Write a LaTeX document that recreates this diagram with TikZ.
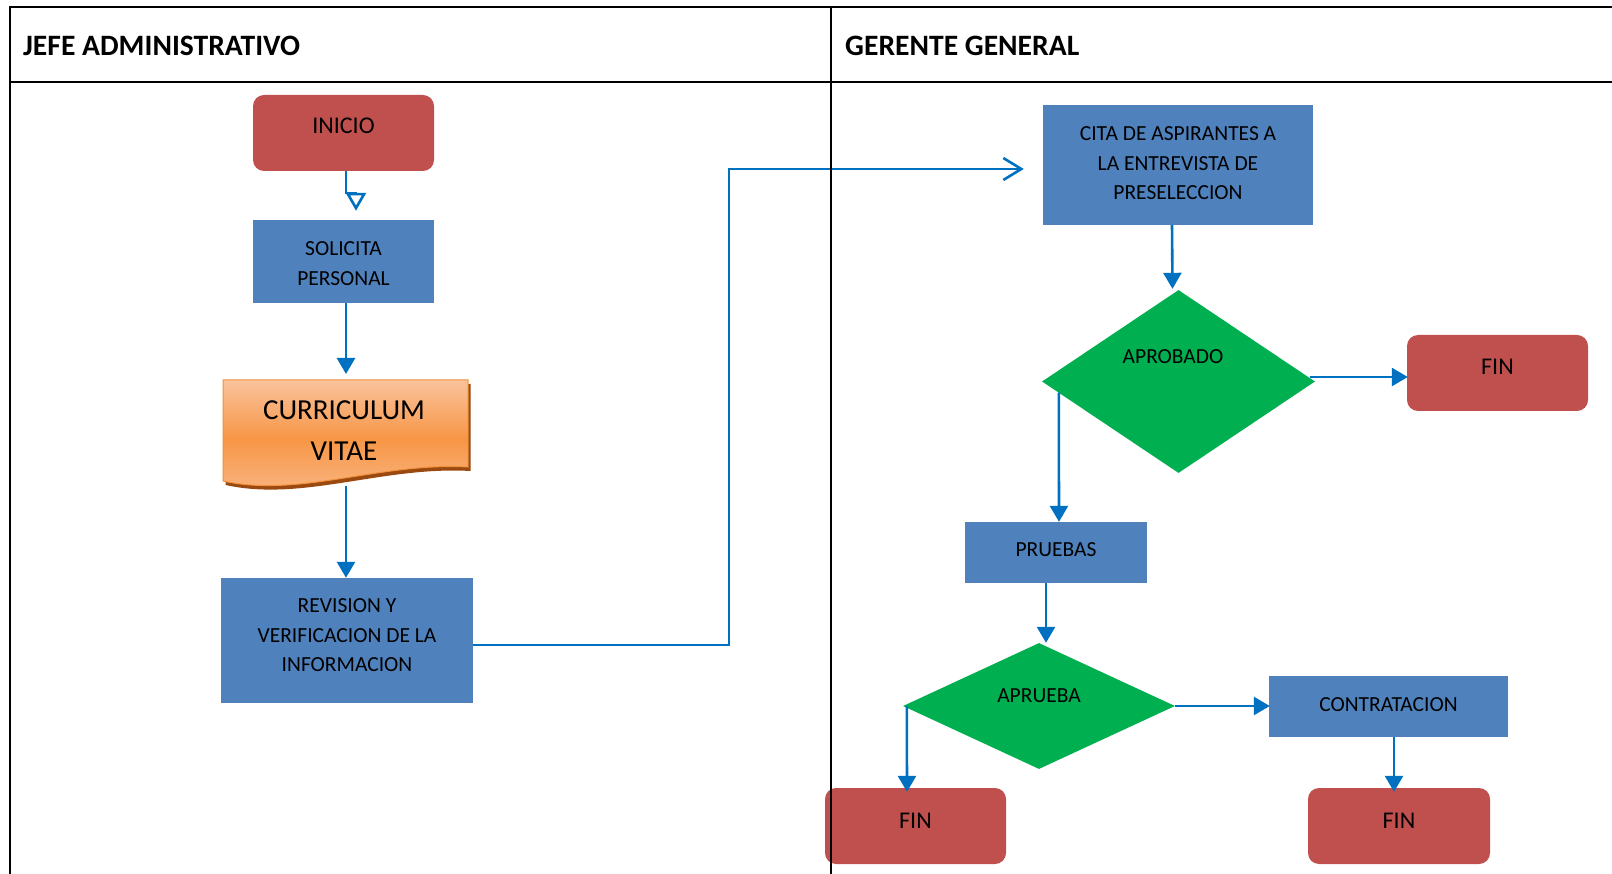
\documentclass[tikz,border=0pt]{standalone}
\usepackage{fontspec}
\setmainfont{Carlito}
\usetikzlibrary{shapes.geometric,arrows.meta,calc}
\definecolor{termred}{HTML}{C0504D}
\definecolor{procblue}{HTML}{4F81BD}
\definecolor{decgreen}{HTML}{00B050}
\definecolor{linkblue}{HTML}{0070C0}
\definecolor{docshadow}{HTML}{9A4A10}
\definecolor{doclight}{HTML}{FAC39C}
\definecolor{docmid}{HTML}{F79646}
\definecolor{docedge}{HTML}{F0903C}
% outline of the document symbol (flat top, wavy bottom)
\newcommand\docoutline{(223,380) -- (468,380) -- (468,467) .. controls (380,462) and (300,498) .. (223,481) -- cycle}
\begin{document}
\begin{tikzpicture}[x=1pt,y=-1pt,
  terminal/.style={rectangle, rounded corners=11pt, fill=termred, inner sep=0pt},
  process/.style={rectangle, fill=procblue, inner sep=0pt},
  decision/.style={diamond, fill=decgreen, inner sep=0pt},
  boxtext/.style={font=\fontsize{21.5}{29.5}\selectfont, align=center, inner sep=0pt},
  endtext/.style={font=\fontsize{24}{29}\selectfont, inner sep=0pt},
  link/.style={draw=linkblue, line width=2.6pt},
  flow/.style={link, -{Triangle[length=16pt,width=18pt]}},
  lane/.style={line width=2pt, draw=black},
  lanehead/.style={font=\bfseries\fontsize{29.6}{35}\selectfont, anchor=west, inner sep=0pt}]

\useasboundingbox (0,0) rectangle (1612,874);
\fill[white] (0,0) rectangle (1612,874);

% swimlane frame
\draw[lane] (10,874) -- (10,7) -- (1612,7);
\draw[lane] (10,82) -- (1612,82);
\node[lanehead] (lane1) at (23,46) {JEFE ADMINISTRATIVO};
\node[lanehead] (lane2) at (845,46) {GERENTE GENERAL};

% ---- left lane ----
\node[terminal, minimum width=181pt, minimum height=76pt] (inicio) at (343.5,133) {};
\node[endtext] (inicio-t) at ([yshift=7pt]inicio.center) {INICIO};

\node[process, minimum width=181pt, minimum height=83pt] (solicita) at (343.5,261.5) {};
\node[boxtext] (solicita-t) at ([yshift=-2pt]solicita.center) {SOLICITA\\PERSONAL};

% document symbol with its drop shadow
\fill[docshadow, shift={(2.5,4)}] \docoutline;
\shadedraw[top color=doclight, bottom color=doclight!75!docmid, middle color=docmid,
  draw=docedge, line width=1pt] \docoutline;
\node[font=\fontsize{29}{41}\selectfont, align=center, inner sep=0pt] (cv) at (344,430.5) {CURRICULUM\\VITAE};
\coordinate (cvin) at (346,374);
\coordinate (cvout) at (346,486);

\node[process, minimum width=252pt, minimum height=125pt] (revision) at (347,640.5) {};
\node[boxtext] (revision-t) at ([yshift=5pt]revision.center) {REVISION Y\\VERIFICACION DE LA\\INFORMACION};

% ---- right lane ----
\node[process, minimum width=270pt, minimum height=120pt] (cita) at (1178,165) {};
\node[boxtext] (cita-t) at ([yshift=1.5pt]cita.center) {CITA DE ASPIRANTES A\\LA ENTREVISTA DE\\PRESELECCION};

\node[decision, minimum width=273pt, minimum height=183pt] (aprobado) at (1178.5,381.5) {};
\node[boxtext] (aprobado-t) at (1173,357) {APROBADO};

\node[terminal, minimum width=181pt, minimum height=76pt] (fin1) at (1497.5,373) {};
\node[endtext] (fin1-t) at ([yshift=6pt]fin1.center) {FIN};

\node[process, minimum width=182pt, minimum height=61pt] (pruebas) at (1056,552.5) {};
\node[boxtext] (pruebas-t) at ([yshift=2.5pt]pruebas.center) {PRUEBAS};

\node[decision, minimum width=272pt, minimum height=126pt] (aprueba) at (1039,706) {};
\node[boxtext] (aprueba-t) at ([yshift=10pt]aprueba.center) {APRUEBA};

\node[process, minimum width=239pt, minimum height=61pt] (contrata) at (1388.5,706.5) {};
\node[boxtext] (contrata-t) at ([yshift=1.5pt]contrata.center) {CONTRATACION};

\node[terminal, minimum width=181pt, minimum height=76pt] (fin2) at (915.5,826) {};
\node[endtext] (fin2-t) at ([yshift=5pt]fin2.center) {FIN};

\node[terminal, minimum width=182pt, minimum height=76pt] (fin3) at (1399,826) {};
\node[endtext] (fin3-t) at ([yshift=5pt]fin3.center) {FIN};

% ---- connectors ----
\draw[link, -{Triangle[open,length=18pt,width=20pt]}]
  ([xshift=2.5pt]inicio.south) -- ++(0,22) -| ([xshift=12.5pt,yshift=9pt]solicita.north);
\draw[flow] ([xshift=2.5pt]solicita.south) -- (cvin);
\draw[flow] (cvout) -- ([xshift=-1pt]revision.north);
\coordinate (bend) at (729,169);
\draw[link, -{Straight Barb[length=18pt,width=22pt]}]
  ([yshift=-4.5pt]revision.east) -| (bend) -- ([xshift=-19pt,yshift=-4pt]cita.west);
\draw[flow] ([xshift=-6pt]cita.south) -- ([xshift=-6pt,yshift=1pt]aprobado.north);
\draw[flow] ([xshift=-5pt,yshift=4.5pt]aprobado.east) -- ([xshift=1pt,yshift=-4pt]fin1.west);
\draw[flow] ([xshift=17pt,yshift=-11pt]aprobado.west) -- ([xshift=3pt]pruebas.north);
\draw[flow] ([xshift=-10pt]pruebas.south) -- ([xshift=7pt]aprueba.north);
\draw[flow] (aprueba.east) -- ([xshift=1pt]aprueba.east -| contrata.west);
\draw[flow] ([xshift=4pt]aprueba.west) -- ([xshift=-8.5pt,yshift=-4pt]fin2.north);
\draw[flow] ([xshift=5.5pt]contrata.south) -- ([xshift=-5pt,yshift=-4pt]fin3.north);

% lane divider on top of everything it crosses
\draw[lane] (831,7) -- (831,874);
\end{tikzpicture}
\end{document}
